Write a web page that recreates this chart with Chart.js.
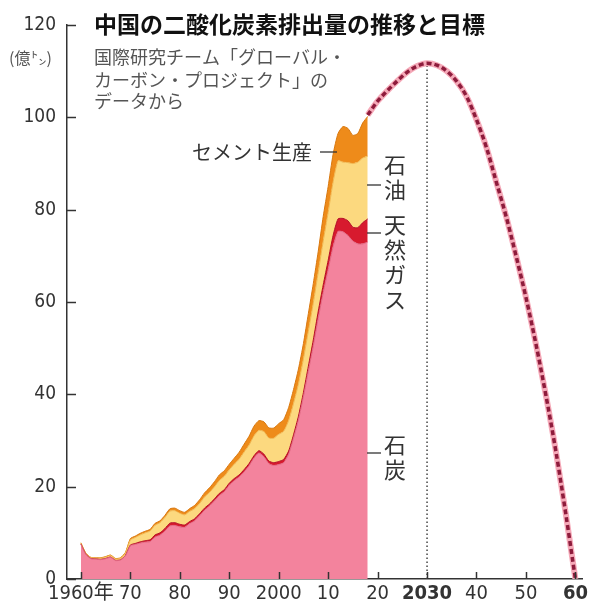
<!DOCTYPE html>
<html>
<head>
<meta charset="utf-8">
<script src="https://cdn.jsdelivr.net/npm/chart.js@4.4.0/dist/chart.umd.min.js"></script>
<style>
  html, body { margin: 0; padding: 0; background: #fff; }
  #wrap { width: 591px; height: 607px; }
</style>
</head>
<body>
<div id="wrap"><canvas id="co2-chart" width="591" height="607"></canvas></div>
<script>
// 1960-2018, 億トン
const years = [1960,1961,1962,1963,1964,1965,1966,1967,1968,1969,
               1970,1971,1972,1973,1974,1975,1976,1977,1978,1979,
               1980,1981,1982,1983,1984,1985,1986,1987,1988,1989,
               1990,1991,1992,1993,1994,1995,1996,1997,1998,1999,
               2000,2001,2002,2003,2004,2005,2006,2007,2008,2009,
               2010,2011,2012,2013,2014,2015,2016,2017,2018];
const coal = [7.5,5.3,4.4,4.3,4.2,4.4,4.7,4.0,4.1,5.0,
              7.2,7.5,7.8,8.0,8.1,9.1,9.5,10.4,11.5,11.6,
              11.3,11.2,12.0,12.6,13.7,14.9,15.8,16.9,18.1,18.9,
              20.3,21.3,22.1,23.2,24.5,26.2,27.3,26.5,25.0,24.6,
              24.8,25.2,27.0,30.5,34.5,39.5,45.0,50.5,56.5,62.0,
              67.0,72.0,75.3,75.2,74.4,73.2,72.6,72.6,73.0];
const gas = [0.05,0.05,0.05,0.05,0.05,0.05,0.05,0.05,0.05,0.1,
             0.15,0.2,0.25,0.3,0.4,0.45,0.5,0.55,0.6,0.6,
             0.55,0.5,0.45,0.45,0.45,0.45,0.45,0.45,0.45,0.45,
             0.45,0.45,0.45,0.5,0.5,0.5,0.5,0.55,0.55,0.6,
             0.65,0.7,0.7,0.75,0.8,0.9,1.1,1.3,1.5,1.7,
             2.0,2.4,2.7,2.9,3.2,3.0,3.5,4.6,5.0];
const oil = [0.2,0.2,0.2,0.2,0.25,0.3,0.35,0.3,0.35,0.5,
             1.1,1.3,1.5,1.7,1.9,2.1,2.2,2.4,2.6,2.6,
             2.4,2.2,2.2,2.2,2.2,2.4,2.5,2.6,2.8,2.9,
             2.9,3.1,3.4,3.8,4.0,4.3,4.4,4.9,5.0,5.3,
             5.9,6.1,6.6,6.8,7.0,7.3,7.6,8.0,8.5,9.5,
             10.4,11.6,12.6,12.2,12.6,13.8,14.2,14.0,13.6];
const cement = [0.1,0.05,0.05,0.05,0.1,0.1,0.1,0.1,0.1,0.15,
                0.3,0.3,0.35,0.35,0.35,0.4,0.4,0.45,0.5,0.55,
                0.55,0.55,0.6,0.7,0.8,0.9,1.0,1.1,1.2,1.2,
                1.2,1.3,1.5,1.7,1.9,2.1,2.1,2.1,2.2,2.2,
                2.3,2.5,2.8,3.0,3.2,3.3,3.8,4.2,4.5,5.3,
                5.6,6.0,5.9,7.7,7.4,6.1,6.2,7.6,8.6];

// 目標の推移（点線）
const projYears = [2018,2020,2022,2024,2026,2028,2030,2032,2034,2036,2038,
                   2040,2042,2044,2046,2048,2050,2052,2054,2056,2058,2060];
const projValues = [100.5,103.5,105.8,107.9,109.8,111.1,111.7,111.3,110.0,107.8,104.5,
                    99.5,93.5,86.0,78.5,70.0,61.0,51.0,40.0,28.0,14.5,0];
const peakYear = 2030;
const peakValue = 111.7;

const xTickVals = [1960,1970,1980,1990,2000,2010,2020,2030,2040,2050,2060];
const xTickLabels = ['1960年','70','80','90','2000','10','20','2030','40','50','60'];
const yTickVals = [0,20,40,60,80,100,120];

const JP = "'Noto Sans CJK JP', 'Noto Sans', sans-serif";
const NUM = "'Liberation Sans Narrow', 'DejaVu Sans Condensed', 'Noto Sans CJK JP', sans-serif";

const pts = (xs, ys) => xs.map((x, i) => ({x: x, y: ys[i]}));

const areaSet = (label, vals, fillColor, lineColor, fill) => ({
    label: label,
    data: pts(years, vals),
    backgroundColor: fillColor,
    borderColor: lineColor,
    borderWidth: 1,
    fill: fill,
    stack: 'hist',
    order: 10,
    pointRadius: 0,
    tension: 0.2
});

const overlay = {
    id: 'overlay',
    afterDraw(chart) {
        const {ctx, scales: {x, y}} = chart;
        ctx.save();
        ctx.strokeStyle = '#333';
        ctx.lineWidth = 1.5;
        // inward ticks
        yTickVals.forEach(v => {
            const py = Math.round(y.getPixelForValue(v)) + 0.5;
            ctx.beginPath(); ctx.moveTo(x.left, py); ctx.lineTo(x.left + 9, py); ctx.stroke();
        });
        xTickVals.forEach(v => {
            const px = Math.round(x.getPixelForValue(v)) + 0.5;
            ctx.beginPath(); ctx.moveTo(px, y.bottom); ctx.lineTo(px, y.bottom - 7); ctx.stroke();
        });

        // title + source
        ctx.fillStyle = '#111';
        ctx.textBaseline = 'middle';
        ctx.textAlign = 'left';
        ctx.font = 'bold 23px ' + JP;
        ctx.fillText('中国の二酸化炭素排出量の推移と目標', 94, 24);
        ctx.fillStyle = '#555';
        ctx.font = '18px ' + JP;
        ctx.fillText('国際研究チーム「グローバル・', 94, 57);
        ctx.fillText('カーボン・プロジェクト」の', 94, 80);
        ctx.fillText('データから', 94, 101);
        ctx.font = '16px ' + JP;
        ctx.fillText('(億㌧)', 9, 58);

        // series labels
        ctx.fillStyle = '#333';
        ctx.font = '20px ' + JP;
        ctx.fillText('セメント生産', 192, 152);
        const lead = (x0, x1, yy) => { ctx.beginPath(); ctx.moveTo(x0, yy); ctx.lineTo(x1, yy); ctx.stroke(); };
        ctx.lineWidth = 1.3;
        lead(320, 337, 152);
        lead(367, 381, 185);
        lead(367, 381, 233);
        lead(367, 381, 453);
        ctx.textAlign = 'center';
        ctx.font = '22px ' + JP;
        const vert = (txt, cx, top) => {
            [...txt].forEach((ch, i) => ctx.fillText(ch, cx, top + 12 + i * 25));
        };
        vert('石油', 395, 153);
        vert('天然ガス', 395, 213);
        vert('石炭', 395, 433);
        ctx.restore();
    }
};

const co2Chart = new Chart(document.getElementById('co2-chart').getContext('2d'), {
    type: 'line',
    data: {
        datasets: [
            areaSet('石炭', coal, '#f3839d', '#e0637f', 'origin'),
            areaSet('天然ガス', gas, '#d71a2e', '#b30f24', '-1'),
            areaSet('石油', oil, '#fcd97f', '#f0b44c', '-1'),
            areaSet('セメント生産', cement, '#ee8b1a', '#d8780f', '-1'),
            {
                label: '目標',
                data: pts(projYears, projValues),
                borderColor: '#8e1c3c',
                borderWidth: 3.5,
                borderDash: [5, 3],
                fill: false,
                stack: 'proj',
                order: 0,
                pointRadius: 0,
                cubicInterpolationMode: 'monotone'
            },
            {
                label: '目標の縁',
                data: pts(projYears, projValues),
                borderColor: '#f5a9b8',
                borderWidth: 6,
                fill: false,
                stack: 'halo',
                order: 1,
                pointRadius: 0,
                cubicInterpolationMode: 'monotone'
            },
            {
                label: '2030',
                data: [{x: peakYear, y: 0}, {x: peakYear, y: peakValue}],
                borderColor: '#444',
                borderWidth: 1.5,
                borderDash: [1.5, 2.5],
                fill: false,
                stack: 'dot',
                order: 2,
                pointRadius: 0
            }
        ]
    },
    options: {
        responsive: false,
        animation: false,
        devicePixelRatio: 1,
        layout: { padding: { top: 25, right: 6, left: 0, bottom: 0 } },
        plugins: { legend: { display: false }, tooltip: { enabled: false } },
        scales: {
            x: {
                type: 'linear',
                min: 1957.19,
                max: 2061.41,
                grid: { display: false, drawTicks: false },
                border: { display: true, color: '#333', width: 1.5 },
                afterFit(s) { s.height = 28; },
                afterBuildTicks(s) { s.ticks = xTickVals.map(v => ({value: v})); },
                ticks: {
                    autoSkip: false,
                    maxRotation: 0,
                    padding: 3,
                    color: '#333',
                    font: (c) => ({
                        family: NUM,
                        size: 20,
                        weight: (c.tick && (c.tick.value === 2030 || c.tick.value === 2060)) ? 'bold' : 'normal'
                    }),
                    callback: (v) => xTickLabels[xTickVals.indexOf(v)]
                }
            },
            y: {
                stacked: true,
                min: 0,
                max: 120,
                grid: { display: false, drawTicks: false },
                border: { display: true, color: '#333', width: 1.5 },
                afterFit(s) { s.width = 67; },
                ticks: {
                    stepSize: 20,
                    padding: 11,
                    color: '#333',
                    font: { family: NUM, size: 19 }
                }
            }
        }
    },
    plugins: [overlay]
});
</script>
</body>
</html>
